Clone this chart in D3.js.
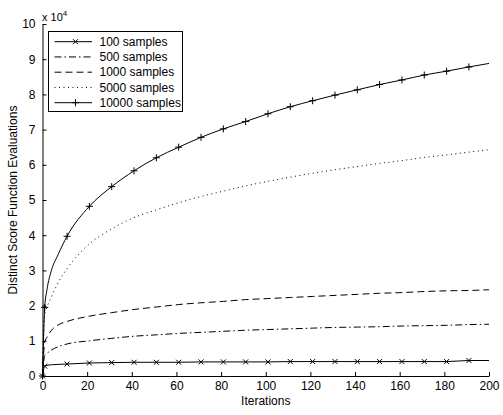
<!DOCTYPE html>
<html><head><meta charset="utf-8">
<script src="https://cdn.jsdelivr.net/npm/d3@7"></script>
<style>
html,body{margin:0;padding:0;background:#fff;}
text{font-family:Arial,"Liberation Sans",sans-serif;}
</style></head>
<body>
<svg id="chart" width="503" height="415"></svg>
<script>
// Data (values in units of 10^4)
const iterations = [0,1,2,4,7,11,21,31,41,51,61,71,81,91,101,111,121,131,141,151,161,171,181,191,200];
const markerIterations = [0,1,11,21,31,41,51,61,71,81,91,101,111,121,131,141,151,161,171,181,191];
const s100   = [0,0.28,0.30,0.32,0.33,0.34,0.37,0.38,0.39,0.39,0.39,0.40,0.40,0.40,0.40,0.41,0.41,0.41,0.41,0.41,0.41,0.41,0.41,0.44,0.44];
const s500   = [0,0.58,0.64,0.74,0.83,0.91,1.00,1.07,1.13,1.17,1.21,1.24,1.27,1.30,1.32,1.34,1.36,1.38,1.39,1.40,1.42,1.43,1.44,1.46,1.47];
const s1000  = [0,0.97,1.10,1.30,1.45,1.55,1.70,1.80,1.89,1.96,2.03,2.08,2.12,2.17,2.20,2.23,2.26,2.29,2.32,2.35,2.37,2.40,2.42,2.43,2.45];
const s5000  = [0,1.75,1.95,2.25,2.65,3.05,3.75,4.18,4.50,4.72,4.92,5.10,5.25,5.40,5.53,5.65,5.76,5.86,5.95,6.04,6.12,6.21,6.28,6.36,6.43];
const s10000 = [0,1.95,2.45,3.00,3.45,3.97,4.82,5.38,5.83,6.20,6.50,6.78,7.02,7.23,7.45,7.65,7.82,7.98,8.13,8.28,8.41,8.55,8.66,8.78,8.88];
const seriesNames = ["100 samples","500 samples","1000 samples","5000 samples","10000 samples"];
const xTicks = [0,20,40,60,80,100,120,140,160,180,200];
const yTicks = [0,1,2,3,4,5,6,7,8,9,10];

const series = [
  {name: seriesNames[0], values: s100,   dash: null,        marker: "x"},
  {name: seriesNames[1], values: s500,   dash: "7,3,1.5,3", marker: null},
  {name: seriesNames[2], values: s1000,  dash: "7,4",       marker: null},
  {name: seriesNames[3], values: s5000,  dash: "1,3.5",     marker: null},
  {name: seriesNames[4], values: s10000, dash: null,        marker: "+"}
];

const svg = d3.select("#chart");
const L = 42.5, R = 489, T = 24, B = 376;
const x = d3.scaleLinear().domain([0,200]).range([L,R]);
const y = d3.scaleLinear().domain([0,10]).range([B,T]);

// lines
const line = d3.line().x((d,i)=>x(iterations[i])).y(d=>y(d)).curve(d3.curveMonotoneX);
function drawMarker(g, type, cx, cy){
  if(type==="x"){
    const s=2.5;
    g.append("path").attr("d",`M${cx-s},${cy-s}L${cx+s},${cy+s}M${cx-s},${cy+s}L${cx+s},${cy-s}`)
      .attr("stroke","#000").attr("stroke-width",1).attr("fill","none");
  } else if(type==="+"){
    const s=3.5;
    g.append("path").attr("d",`M${cx-s},${cy}L${cx+s},${cy}M${cx},${cy-s}L${cx},${cy+s}`)
      .attr("stroke","#000").attr("stroke-width",1).attr("fill","none");
  }
}
const plot = svg.append("g");
series.forEach(s=>{
  plot.append("path").attr("d", line(s.values)).attr("fill","none")
    .attr("stroke","#000").attr("stroke-width",1)
    .attr("stroke-dasharray", s.dash);
  if(s.marker){
    markerIterations.forEach(it=>{
      const idx = iterations.indexOf(it);
      drawMarker(plot, s.marker, x(it), y(s.values[idx]));
    });
  }
});

// axes
const xAxis = d3.axisBottom(x).tickValues(xTicks).tickSizeInner(-4).tickSizeOuter(0).tickPadding(7);
const yAxis = d3.axisLeft(y).tickValues(yTicks).tickSizeInner(-4).tickSizeOuter(0).tickPadding(7);
const gx = svg.append("g").attr("transform",`translate(0,${B})`).call(xAxis);
const gy = svg.append("g").attr("transform",`translate(${L},0)`).call(yAxis);
[gx,gy].forEach(g=>{
  g.select(".domain").attr("stroke","#000").attr("stroke-width",1);
  g.selectAll(".tick line").attr("stroke","#000");
  g.selectAll("text").attr("font-size",12).attr("fill","#000").attr("font-family","Arial, 'Liberation Sans', sans-serif");
});
gx.selectAll("text").attr("dy","0.71em").attr("y",5);

// axis titles
svg.append("text").attr("x",(L+R)/2).attr("y",405).attr("text-anchor","middle")
  .attr("font-size",12).text("Iterations");
svg.append("text").attr("transform",`translate(17,${(T+B)/2}) rotate(-90)`)
  .attr("text-anchor","middle").attr("font-size",12).text("Distinct Score Function Evaluations");

// exponent
const ex = svg.append("text").attr("x",42).attr("y",21).attr("font-size",11);
ex.append("tspan").text("x 10");
ex.append("tspan").attr("dy",-5).attr("font-size",8).text("4");

// legend
const lg = svg.append("g");
lg.append("rect").attr("x",48.5).attr("y",31.5).attr("width",134).attr("height",80)
  .attr("fill","#fff").attr("stroke","#000").attr("stroke-width",1);
series.forEach((s,i)=>{
  const yy = 41.7 + i*15.25;
  lg.append("line").attr("x1",54.5).attr("x2",92).attr("y1",yy).attr("y2",yy)
    .attr("stroke","#000").attr("stroke-width",1).attr("stroke-dasharray",s.dash);
  if(s.marker) drawMarker(lg, s.marker, 75.5, yy);
  lg.append("text").attr("x",99.5).attr("y",yy).attr("dy","0.35em").attr("font-size",12).text(s.name);
});
</script>
</body></html>
